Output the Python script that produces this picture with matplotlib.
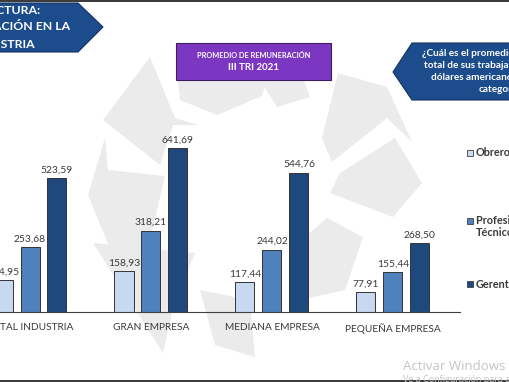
import matplotlib
matplotlib.use("Agg")
import matplotlib.pyplot as plt
from matplotlib.patches import Polygon, Rectangle
import numpy as np

plt.rcParams['font.family'] = ['Lato', 'DejaVu Sans']

# ---- data ----
categories = ["TOTAL INDUSTRIA", "GRAN EMPRESA", "MEDIANA EMPRESA", "PEQUEÑA EMPRESA"]
obreros = [124.95, 158.93, 117.44, 77.91]
profesionales = [253.68, 318.21, 244.02, 155.44]
gerentes = [523.59, 641.69, 544.76, 268.50]
series_names = ["Obreros", "Profesionales y\nTécnicos", "Gerentes"]
series_colors = ["#C6D9F0", "#4F81BD", "#1F497D"]
title_lines = ["MANUFACTURA:", "REMUNERACIÓN EN LA", "INDUSTRIA"]
box_title = ["PROMEDIO DE REMUNERACIÓN", "III TRI 2021"]
question_lines = ["¿Cuál es el promedio de remuneración", "total de sus trabajadores en",
                  "dólares americanos por cada", "categoría?"]

W, H = 510, 382
fig = plt.figure(figsize=(W / 100, H / 100), dpi=100)
fig.patch.set_facecolor("white")

# background / decoration axes in pixel coordinates
bg = fig.add_axes([0, 0, 1, 1], zorder=0)
bg.set_xlim(0, W)
bg.set_ylim(H, 0)
bg.axis("off")

wm = "#EBEBEB"
wm_polys = [
    [(150, 57), (103, 120), (160, 165), (173, 125), (198, 125), (175, 118)],
    [(105, 138), (108, 170), (165, 176), (150, 240), (118, 268), (88, 195)],
    [(178, 80), (180, 100), (217, 115), (262, 96), (272, 62), (200, 60)],
    [(338, 73), (387, 87), (412, 142), (387, 118), (332, 162), (322, 138)],
    [(395, 138), (340, 173), (330, 193), (393, 217), (422, 183)],
    [(260, 80), (277, 107), (310, 97), (300, 70)],
    [(327, 218), (363, 237), (345, 290), (300, 300), (290, 250)],
    [(93, 243), (195, 253), (175, 300), (163, 353)],
    [(200, 290), (250, 300), (255, 357), (215, 345)],
]
for p in wm_polys:
    bg.add_patch(Polygon(p, closed=True, facecolor=wm, edgecolor="none"))

# dark strips top / bottom
bg.add_patch(Rectangle((0, 0), W, 2, facecolor="#3C3C3C", edgecolor="none"))
bg.add_patch(Rectangle((0, 380), W, 2, facecolor="#3C3C3C", edgecolor="none"))

# top-left arrow box
navy = "#1C4C8C"
bg.add_patch(Polygon([(-5, 3), (78, 3), (103, 27), (78, 52), (-5, 52)], closed=True,
                     facecolor=navy, edgecolor="#14335E", lw=0.8))
for txt, xe, y in zip(title_lines, [40, 70, 35], [11, 27, 44]):
    bg.text(xe, y, txt, ha="right", va="center", color="white", fontsize=8.8,
            fontweight="bold")

# purple box
bg.add_patch(Rectangle((176, 43), 155, 37, facecolor="#7B36C2", edgecolor="#3E1B63", lw=0.8))
bg.text(253.5, 55, box_title[0], ha="center", va="center", color="white",
        fontsize=5.3, fontweight="bold")
bg.text(253.5, 67, box_title[1], ha="center", va="center", color="white",
        fontsize=7, fontweight="bold")

# right arrow box
bg.add_patch(Polygon([(393, 72), (412, 43), (515, 43), (515, 100), (412, 100)], closed=True,
                     facecolor=navy, edgecolor="#14335E", lw=0.8))
for txt, xs, y in zip(question_lines, [422, 424, 431, 479], [54, 66, 78, 89]):
    bg.text(xs, y, txt, ha="left", va="center", color="white", fontsize=7.2,
            fontweight="bold")

# legend (manual)
for name, col, y in zip(series_names, series_colors, [153, 221, 284]):
    bg.add_patch(Rectangle((467, y - 3.5), 6.5, 6.5, facecolor=col, edgecolor="#404040", lw=0.6))
    bg.text(476, y, name.split("\n")[0], ha="left", va="center", color="#3A3A3A",
            fontsize=7.8, fontweight="bold")
    if "\n" in name:
        bg.text(476, y + 12, name.split("\n")[1], ha="left", va="center", color="#3A3A3A",
                fontsize=7.8, fontweight="bold")

# windows watermark
bg.text(403, 366, "Activar Windows", ha="left", va="center", color="#C4C4C4", fontsize=9.5,
        family="Open Sans")
bg.text(403, 380, "Ve a Configuración para activar Windows.", ha="left", va="center",
        color="#C4C4C4", fontsize=6.5, family="Open Sans")

# ---- main chart axes ----
left_px, right_px, base_px, top_px = 0, 460, 312, 100
ax = fig.add_axes([left_px / W, (H - base_px) / H, (right_px - left_px) / W,
                   (base_px - top_px) / H], zorder=1)
ax.patch.set_alpha(0)
grp_px = 121.0
c0 = 30.0
ax.set_xlim((left_px - c0) / grp_px, (right_px - c0) / grp_px)
ax.set_ylim(0, (base_px - top_px) / 0.256)

x = np.arange(len(categories))
off = 27 / grp_px
bw = 19 / grp_px
for vals, col, dx in zip([obreros, profesionales, gerentes], series_colors, [-off, 0, off]):
    bars = ax.bar(x + dx, vals, width=bw, color=col, edgecolor="#333333", linewidth=0.7)
    ax.bar_label(bars, labels=[f"{v:.2f}".replace(".", ",") for v in vals], padding=2.5,
                 fontsize=7.4, color="#3A3A3A")

for s in ["top", "right", "left"]:
    ax.spines[s].set_visible(False)
ax.spines["bottom"].set_color("#404040")
ax.spines["bottom"].set_linewidth(0.8)
ax.set_yticks([])
ax.set_xticks(x)
ax.set_xticklabels(categories, fontsize=7.3, color="#3A3A3A")
ax.tick_params(axis="x", length=0, pad=8)

fig.savefig("out.png", dpi=100)
